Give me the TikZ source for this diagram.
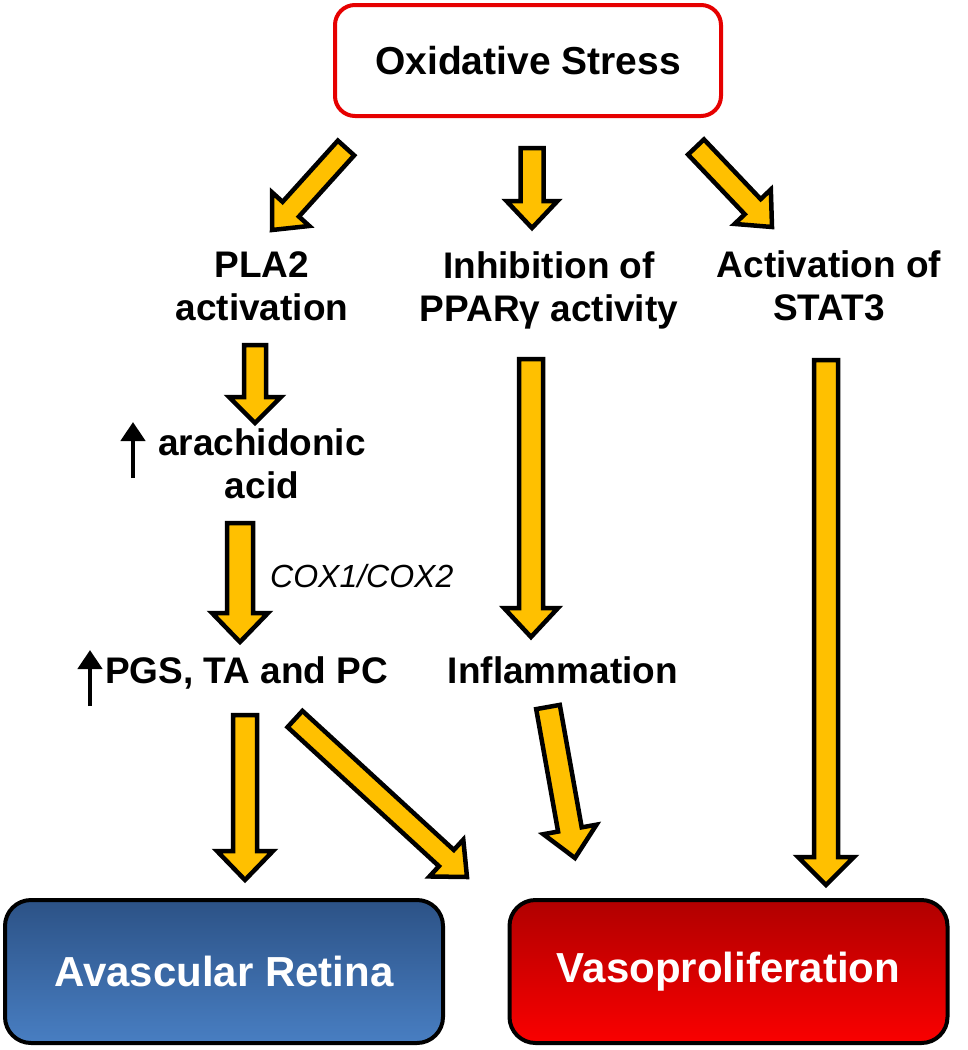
\documentclass[tikz,border=0pt]{standalone}
\usepackage{fontspec}
\setmainfont{Liberation Sans}
\usetikzlibrary{calc,arrows.meta}
\definecolor{gold}{RGB}{255,192,0}
\definecolor{oxred}{RGB}{230,0,0}
\definecolor{bluetop}{RGB}{44,82,134}
\definecolor{bluebot}{RGB}{72,126,194}
\definecolor{redtop}{RGB}{176,0,0}
\definecolor{redbot}{RGB}{250,0,0}
\newcommand\twolines[1]{\begin{tabular}[t]{@{}c@{}}#1\end{tabular}}
\newcommand\fatarrow[5]{%
  \coordinate (fahead) at ($(#2)!#5!(#1)$);
  \draw[fatarr] ($(#1)!#3!90:(#2)$) -- ($(fahead)!#3!-90:(#1)$) -- ($(fahead)!#4!-90:(#1)$) -- (#2) -- ($(fahead)!#4!90:(#1)$) -- ($(fahead)!#3!90:(#1)$) -- ($(#1)!#3!-90:(#2)$) -- cycle;}
\begin{document}
\begin{tikzpicture}[x=1pt,y=-1pt,
  fatarr/.style={draw=black, fill=gold, line width=4.5pt, line join=miter, miter limit=10},
  txt/.style={font=\bfseries\fontsize{37}{43}\selectfont, inner sep=0pt, anchor=base},
  coxlbl/.style={font=\itshape\fontsize{32}{36}\selectfont, inner sep=0pt, anchor=base west},
  topbox/.style={draw=oxred, line width=4pt, rounded corners=20pt, fill=white, minimum width=386pt, minimum height=111pt, inner sep=0pt, font=\bfseries\fontsize{39}{44}\selectfont},
  outbox/.style={draw=black, line width=4pt, rounded corners=26pt, minimum width=438pt, minimum height=143pt, inner sep=0pt, text=white, font=\bfseries\fontsize{42}{48}\selectfont},
  uparr/.style={line width=4.5pt, -{Triangle[width=24pt,length=19pt]}}]
\fill[white] (0,0) rectangle (967,1050);
\useasboundingbox (0,0) rectangle (967,1050);

% nodes
\node[topbox] (ox) at (528,60.5) {Oxidative Stress};
\node[txt] (pla) at (262,277) {\twolines{PLA2\\activation}};
\node[txt] (ppar) at (549,278) {\twolines{Inhibition of\\PPARγ activity}};
\node[txt] (stat) at (829,277) {\twolines{Activation of\\STAT3}};
\node[txt] (arach) at (262,455) {\twolines{arachidonic\\acid}};
\node[txt, anchor=base west] (pgs) at (105,683) {PGS, TA and PC};
\node[txt] (infl) at (563,683) {Inflammation};
\node[coxlbl] (cox) at (270,587) {COX1/COX2};
\node[outbox, top color=bluetop, bottom color=bluebot] (avr) at (224,971.5) {Avascular Retina};
\node[outbox, top color=redtop, bottom color=redbot] (vaso) at (728.5,971.5) {Vasoproliferation};

% small up arrows
\coordinate (u1a) at (133,478); \coordinate (u1b) at (133,422);
\coordinate (u2a) at (90,706); \coordinate (u2b) at (90,650);
\draw[uparr] (u1a) -- (u1b);
\draw[uparr] (u2a) -- (u2b);

% fat arrows
\coordinate (a1s) at (346,148); \coordinate (a1e) at (272,230);
\coordinate (a2s) at (532,148); \coordinate (a2e) at (532,228);
\coordinate (a3s) at (696,147); \coordinate (a3e) at (772,227);
\coordinate (a4s) at (255,345); \coordinate (a4e) at (255,423);
\coordinate (a5s) at (240,523); \coordinate (a5e) at (240,642);
\coordinate (a6s) at (531,359); \coordinate (a6e) at (531,637);
\coordinate (a7s) at (826,360); \coordinate (a7e) at (826,885);
\coordinate (a8s) at (245,715); \coordinate (a8e) at (245,880);
\coordinate (a9s) at (295,719); \coordinate (a9e) at (467,877);
\coordinate (a10s) at (548,707); \coordinate (a10e) at (575,858);

\fatarrow{a1s}{a1e}{11pt}{25pt}{28pt}
\fatarrow{a2s}{a2e}{11.5pt}{25.5pt}{27pt}
\fatarrow{a3s}{a3e}{11pt}{25pt}{28pt}
\fatarrow{a4s}{a4e}{11pt}{26pt}{26pt}
\fatarrow{a5s}{a5e}{13pt}{28pt}{29pt}
\fatarrow{a6s}{a6e}{12pt}{27pt}{29pt}
\fatarrow{a7s}{a7e}{12pt}{28pt}{28pt}
\fatarrow{a8s}{a8e}{12pt}{28pt}{29pt}
\fatarrow{a9s}{a9e}{11pt}{25pt}{28pt}
\fatarrow{a10s}{a10e}{12pt}{27pt}{29pt}
\end{tikzpicture}
\end{document}
